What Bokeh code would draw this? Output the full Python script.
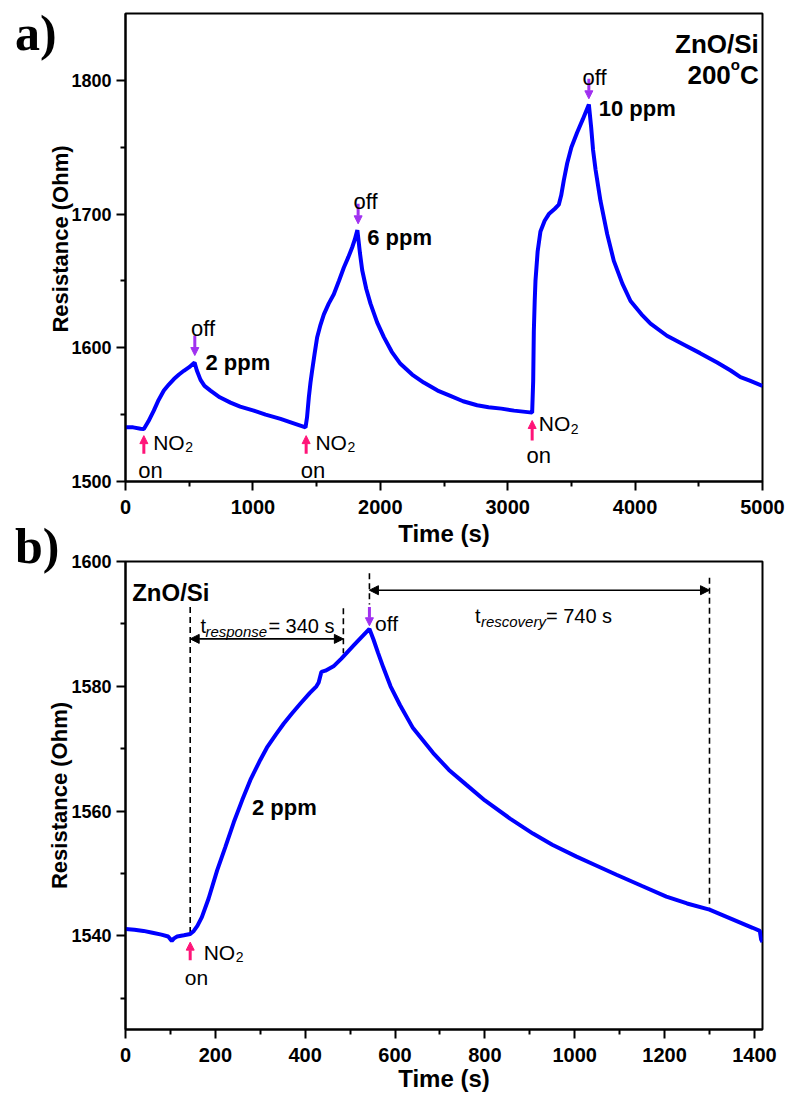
import math
from bokeh.plotting import figure
from bokeh.models import Range1d, FixedTicker, Label, Arrow, NormalHead, Div
from bokeh.layouts import column
from bokeh.embed import file_html
from bokeh.resources import INLINE

# ---------------- data ----------------
# panel a: three NO2 pulses (2, 6, 10 ppm) at 200 C
time_a = [0, 60, 118, 144, 180, 222, 260, 301, 340, 380, 420, 458, 500, 542,
          560, 589, 620, 667, 740, 824, 900, 1007, 1100, 1217, 1320, 1413,
          1425, 1439, 1452, 1465, 1485, 1504, 1530, 1557, 1595, 1635, 1675, 1714,
          1750, 1779, 1800, 1820, 1840, 1858, 1890, 1923, 1975, 2028, 2090, 2158,
          2250, 2341, 2450, 2550, 2650, 2760, 2850, 2950, 3050, 3192, 3200, 3205,
          3212, 3218, 3235, 3257, 3290, 3323, 3370, 3401, 3420, 3440, 3467, 3500,
          3545, 3590, 3637, 3655, 3670, 3690, 3728, 3781, 3833, 3900, 3964, 4050,
          4121, 4250, 4380, 4510, 4644, 4750, 4827, 4900, 5000]
res_a = [1540.5, 1540.5, 1539.5, 1539.3, 1545.0, 1553.0, 1561.0, 1568.0, 1572.5, 1576.6, 1580.0, 1582.8, 1585.5, 1589.0,
         1583.0, 1576.0, 1571.5, 1568.0, 1563.0, 1559.0, 1556.0, 1553.0, 1550.0, 1546.8, 1543.5, 1540.5,
         1548.0, 1563.0, 1574.0, 1583.0, 1596.0, 1607.7, 1617.0, 1625.0, 1633.0, 1640.0, 1650.0, 1660.0,
         1668.0, 1675.0, 1681.0, 1688.0, 1671.0, 1658.0, 1644.0, 1633.0, 1619.0, 1608.0, 1597.0, 1588.0,
         1580.0, 1574.0, 1568.0, 1564.0, 1560.0, 1557.0, 1555.5, 1554.5, 1553.0, 1551.5, 1575.0, 1612.0,
         1635.0, 1650.0, 1672.0, 1687.0, 1695.0, 1700.0, 1704.0, 1707.0, 1714.0, 1725.0, 1738.0, 1750.0,
         1761.0, 1771.0, 1782.0, 1765.0, 1748.0, 1733.0, 1710.0, 1685.0, 1665.0, 1648.0, 1635.0, 1625.0,
         1618.0, 1609.0, 1602.5, 1596.0, 1589.0, 1583.0, 1578.0, 1575.5, 1571.5]

# panel b: single 2 ppm pulse
time_b = [0, 20, 40, 60, 80, 95, 103, 108, 115, 130, 144, 152, 160, 170, 185, 204, 222, 241, 260, 278,
          300, 315, 335, 352, 370, 389, 410, 425, 430, 436, 445, 463, 480, 493, 510, 527, 543, 552,
          562, 574, 590, 611, 640, 685, 720, 759, 800, 856, 907, 950, 1004, 1050, 1093, 1150, 1204,
          1250, 1300, 1350, 1396, 1412, 1415, 1418]
res_b = [1541.1, 1541.0, 1540.8, 1540.5, 1540.2, 1539.9, 1539.2, 1539.6, 1539.9, 1540.1, 1540.3, 1540.8,
         1541.6, 1543.0, 1546.0, 1550.5, 1554.2, 1558.2, 1561.8, 1565.0, 1568.2, 1570.2, 1572.3, 1574.0,
         1575.6, 1577.2, 1578.9, 1580.0, 1580.6, 1582.3, 1582.5, 1583.2, 1584.4, 1585.4, 1586.7, 1588.0,
         1589.2, 1587.5, 1585.4, 1583.0, 1580.0, 1577.0, 1573.3, 1569.3, 1566.6, 1564.2, 1561.7, 1558.8,
         1556.4, 1554.6, 1552.7, 1551.2, 1549.8, 1548.0, 1546.3, 1545.2, 1544.2, 1542.7, 1541.3, 1540.8,
         1539.4, 1539.0]

xticks_a = [0, 1000, 2000, 3000, 4000, 5000]
yticks_a = [1500, 1600, 1700, 1800]
xticks_b = [0, 200, 400, 600, 800, 1000, 1200, 1400]
yticks_b = [1540, 1560, 1580, 1600]

# ---------------- styling helpers ----------------
FONT = "Liberation Sans"
SERIF = "Liberation Serif"
BLUE = "#0000ff"
PINK = "#ff1478"
PURPLE = "#a030f0"


def style(p, xt, xminor, yt, yminor):
    p.outline_line_color = "black"
    p.outline_line_width = 2
    p.outline_line_alpha = 1
    p.xgrid.visible = False
    p.ygrid.visible = False
    p.xaxis.ticker = FixedTicker(ticks=xt, minor_ticks=xminor)
    p.yaxis.ticker = FixedTicker(ticks=yt, minor_ticks=yminor)
    for ax in (p.xaxis[0], p.yaxis[0]):
        ax.axis_line_width = 2
        ax.axis_line_color = "black"
        ax.major_tick_line_width = 2
        ax.minor_tick_line_width = 2
        ax.major_tick_line_color = "black"
        ax.minor_tick_line_color = "black"
        ax.major_tick_out = 9
        ax.major_tick_in = 0
        ax.minor_tick_out = 5
        ax.minor_tick_in = 0
        ax.major_label_text_font = FONT
        ax.major_label_text_font_style = "bold"
        ax.major_label_text_color = "black"
        ax.axis_label_text_font = FONT
        ax.axis_label_text_font_style = "bold"
        ax.axis_label_text_color = "black"
        ax.axis_label_text_font_size = "24px"
    p.xaxis.major_label_text_font_size = "20px"
    p.yaxis.major_label_text_font_size = "18px"
    p.xaxis.major_label_standoff = 9
    p.yaxis.major_label_standoff = 5


def lab(p, x, y, text, size, style="normal", align="left", color="black",
        font=FONT, xo=0, yo=0, angle=0, baseline="alphabetic"):
    p.add_layout(Label(x=x, y=y, text=text, text_font=font,
                       text_font_size=f"{size}px", text_font_style=style,
                       text_align=align, text_baseline=baseline,
                       text_color=color, x_offset=xo, y_offset=yo, angle=angle))


def arrow(p, x0, y0, x1, y1, color, width=2.5, size=8, both=False):
    head = NormalHead(size=size, fill_color=color, line_color=color, line_width=1)
    start = NormalHead(size=size, fill_color=color, line_color=color, line_width=1) if both else None
    p.add_layout(Arrow(start=start, end=head, x_start=x0, y_start=y0, x_end=x1, y_end=y1,
                       line_color=color, line_width=width))


def panel_div(text, top, left, height=50, bottom=None):
    if bottom is None:
        bottom = -(top + height)
    return Div(text=text, width=80, height=height, margin=(top, 0, bottom, left),
               styles={"font-family": SERIF, "font-weight": "bold", "font-size": "50px",
                       "line-height": "50px", "color": "black"})


# ---------------- panel a ----------------
p1 = figure(width=787, height=553, x_range=Range1d(0, 5000), y_range=Range1d(1500, 1850),
            output_backend="svg", toolbar_location=None,
            min_border_left=125, min_border_right=25, min_border_top=13, min_border_bottom=72)
p1.border_fill_color = None
style(p1, xticks_a, [500, 1500, 2500, 3500, 4500], yticks_a, [1550, 1650, 1750])
p1.xaxis.axis_label = "Time (s)"
p1.xaxis.axis_label_standoff = 3
p1.line(time_a, res_a, line_color=BLUE, line_width=4)

lab(p1, 4971, 1827.4, "ZnO/Si", 26, "bold", align="right")
lab(p1, 4971, 1803.7, "C", 26, "bold", align="right")
lab(p1, 4971, 1803.7, "o", 15, "bold", align="right", xo=-19, yo=11)
lab(p1, 4971, 1803.7, "200", 26, "bold", align="right", xo=-28)

# on markers
for tx, ty_tail, ty_head, tno, yno, ton, yon in [
        (144, 1520.7, 1534.3, 217, 1529.4, 196, 1508.2),
        (1418, 1520.7, 1534.3, 1491, 1529.4, 1472, 1508.2),
        (3192, 1530.7, 1545.6, 3244, 1543.1, 3244, 1519.4)]:
    arrow(p1, tx, ty_tail, tx, ty_head, PINK, width=3, size=8)
    lab(p1, tno, yno, "NO", 21)
    lab(p1, tno, yno, "2", 14, xo=32, yo=-5)
    lab(p1, ton, yon, "on", 22, align="center")

# off markers
for tx, ty_tail, ty_head, toff, yoff, tppm, yppm, ppm in [
        (544, 1609.2, 1594.2, 608, 1614.2, 628, 1589.0, "2 ppm"),
        (1826, 1707.7, 1692.7, 1884, 1709.7, 1897, 1682.7, "6 ppm"),
        (3637, 1801.2, 1786.2, 3682, 1802.4, 3715, 1778.8, "10 ppm")]:
    arrow(p1, tx, ty_tail, tx, ty_head, PURPLE, width=3, size=8)
    lab(p1, toff, yoff, "off", 22, align="center")
    lab(p1, tppm, yppm, ppm, 22, "bold")

# y label of panel a (placed a little above centre, as in the reference)
ylab_a = Div(text="Resistance (Ohm)", width=260, height=26, margin=(226, 0, -252, -69),
             styles={"transform": "rotate(-90deg)", "font-family": FONT, "font-weight": "bold",
                     "font-size": "22px", "line-height": "26px", "text-align": "center",
                     "color": "black", "white-space": "nowrap"})

# ---------------- panel b ----------------
p2 = figure(width=787, height=580, x_range=Range1d(0, 1418), y_range=Range1d(1525, 1600),
            output_backend="svg", toolbar_location=None,
            min_border_left=125, min_border_right=24, min_border_top=45, min_border_bottom=67)
p2.border_fill_color = None
style(p2, xticks_b, [100, 300, 500, 700, 900, 1100, 1300], yticks_b, [1530, 1550, 1570, 1590])
p2.xaxis.axis_label = "Time (s)"
p2.yaxis.axis_label = "Resistance (Ohm)"
p2.yaxis.axis_label_text_font_size = "22px"
p2.xaxis.axis_label_standoff = 0
p2.yaxis.axis_label_standoff = -4

# dashed guides
p2.segment(x0=[144, 485, 543, 1300], y0=[1592.7, 1592.5, 1598.1, 1597.4],
           x1=[144, 485, 543, 1300], y1=[1540.2, 1585.3, 1593.1, 1544.1],
           line_color="black", line_width=1.6, line_dash="6 4")

p2.line(time_b, res_b, line_color=BLUE, line_width=4)

arrow(p2, 144, 1587.6, 485, 1587.6, "black", width=1.6, size=9, both=True)
arrow(p2, 543, 1595.4, 1300, 1595.4, "black", width=1.6, size=9, both=True)
arrow(p2, 144, 1536.1, 144, 1539.0, PINK, width=3, size=8)
arrow(p2, 543, 1592.7, 543, 1589.7, PURPLE, width=3, size=8)

lab(p2, 14.9, 1595.1, "ZnO/Si", 24, "bold")
lab(p2, 166.7, 1589.7, "t", 20)
lab(p2, 166.7, 1589.7, "response", 15, "italic", xo=5, yo=-6)
lab(p2, 166.7, 1589.7, "= 340 s", 20, xo=68)
lab(p2, 777.8, 1591.3, "t", 20)
lab(p2, 777.8, 1591.3, "rescovery", 15, "italic", xo=6, yo=-6)
lab(p2, 777.8, 1591.3, "= 740 s", 20, xo=71)
lab(p2, 555.6, 1590.1, "off", 21)
lab(p2, 281.6, 1560.6, "2 ppm", 22, "bold")
lab(p2, 174, 1537.4, "NO", 21)
lab(p2, 174, 1537.4, "2", 14, xo=32, yo=-5)
lab(p2, 131.8, 1533.4, "on", 21)

div_a = panel_div("a)", top=8, left=15)
div_b = panel_div("b)", top=-32, left=15, bottom=-55)

layout = column(div_a, ylab_a, p1, div_b, p2, spacing=0)
open("out.html", "w").write(file_html(layout, INLINE))
